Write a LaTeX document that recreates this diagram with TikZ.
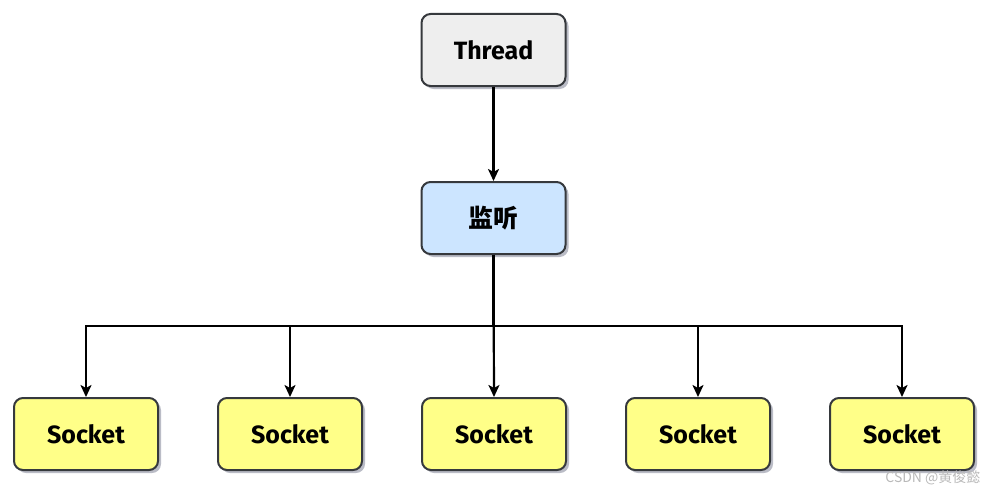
\documentclass[tikz,border=0pt]{standalone}
\usepackage{fontspec}
\setmainfont{Fira Sans}
\newfontfamily\cjk{Noto Sans CJK SC}
\usetikzlibrary{arrows.meta,shadows}

\definecolor{edgegray}{HTML}{36393D}
\definecolor{threadfill}{HTML}{EEEEEE}
\definecolor{listenfill}{HTML}{CCE5FF}
\definecolor{socketfill}{HTML}{FFFF88}
\definecolor{shadowgray}{HTML}{A9ABB8}

\begin{document}
\begin{tikzpicture}[x=1pt,y=-1pt,
		box/.style={rectangle, rounded corners=9pt, draw=edgegray, line width=2pt,
			minimum width=144pt, minimum height=72pt, inner sep=0pt,
			font=\fontsize{25}{28}\selectfont\bfseries,
			drop shadow={shadow xshift=3pt, shadow yshift=-3pt, fill=shadowgray, opacity=0.8}},
		link/.style={line width=2.2pt, black, -{Stealth[length=12pt,width=11pt,inset=3pt]}}]
			\useasboundingbox (0,0) rectangle (998,495);
			\node [box, fill=threadfill] (thread) at (493.5,50) {Thread};
			\node [box, fill=listenfill] (listen) at (493.5,218) {\cjk 监听};
			\foreach \i/\x in {1/86,2/290,3/494,4/698,5/902}
				\node [box, fill=socketfill] (socket\i) at (\x,434) {Socket};
			\coordinate (hub) at (493.5,326);
			\draw [link] (thread) -- (listen);
			\foreach \i in {1,2,4,5}
				\draw [link] (listen.south) -- (hub) -| (socket\i.north);
			\draw [link] (listen.south) -- (socket3.north);
			\node [text=gray!55, font=\cjk\fontsize{14}{16}\selectfont, anchor=east] (mark) at (984,478) {CSDN @黄俊懿};
		\end{tikzpicture}
\end{document}
